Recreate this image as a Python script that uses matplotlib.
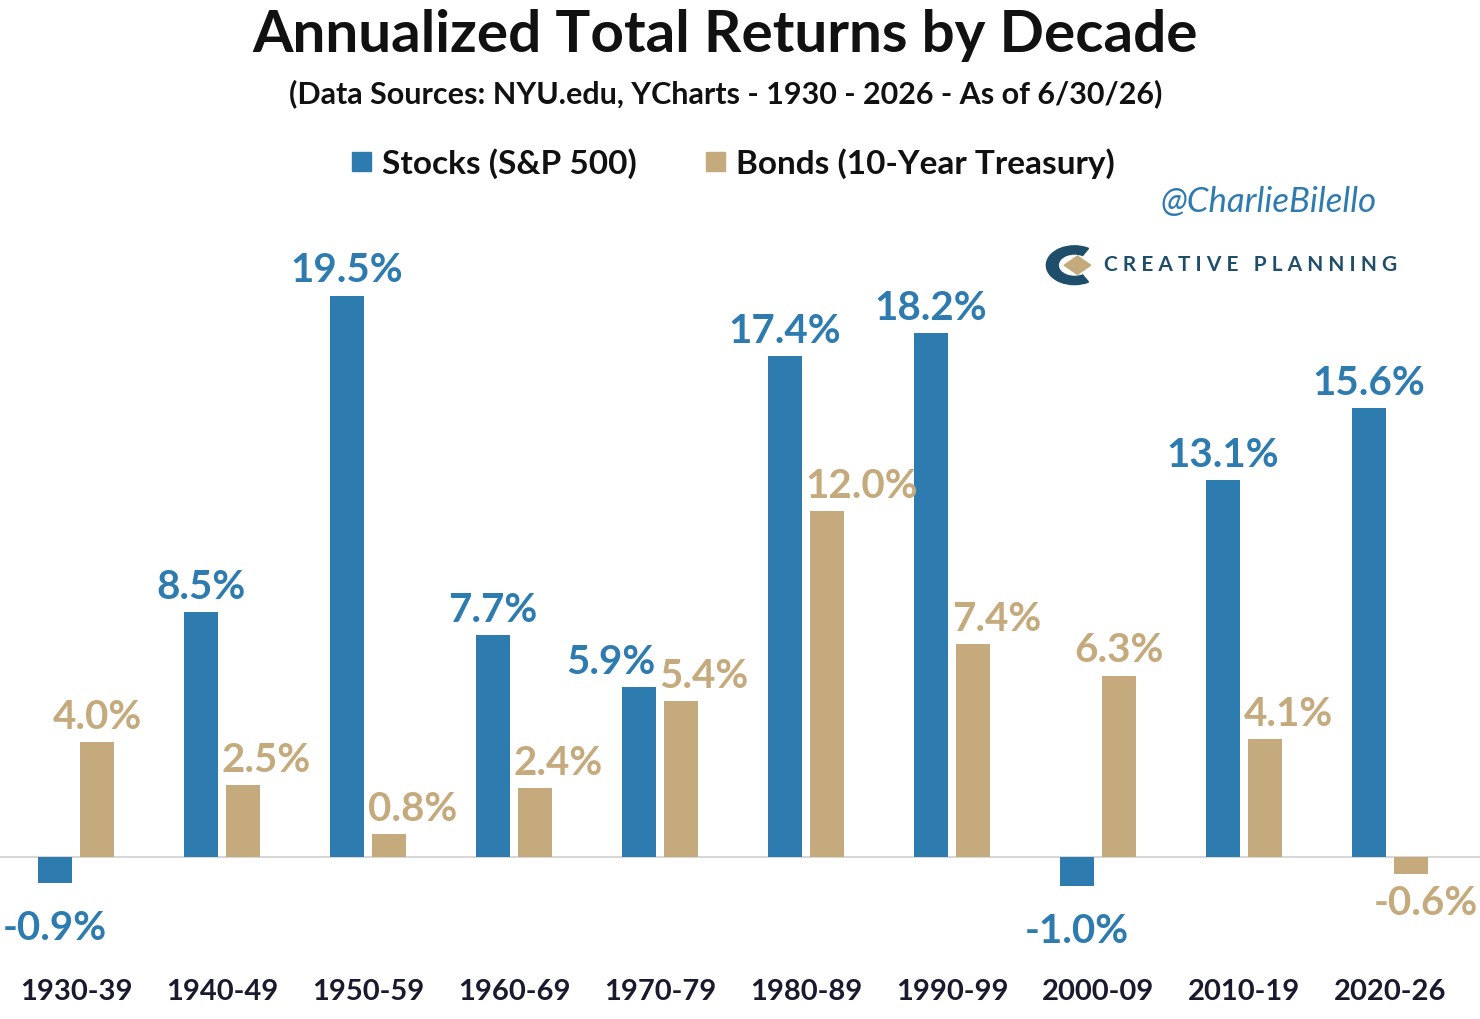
import matplotlib
matplotlib.use("Agg")
import matplotlib.pyplot as plt
import numpy as np

decades = ["1930-39", "1940-49", "1950-59", "1960-69", "1970-79",
           "1980-89", "1990-99", "2000-09", "2010-19", "2020-26"]
stocks = [-0.9, 8.5, 19.5, 7.7, 5.9, 17.4, 18.2, -1.0, 13.1, 15.6]
bonds = [4.0, 2.5, 0.8, 2.4, 5.4, 12.0, 7.4, 6.3, 4.1, -0.6]

BLUE = "#2E7BB0"
TAN = "#C4AA7C"
plt.rcParams["font.family"] = ["Lato", "DejaVu Sans"]

fig = plt.figure(figsize=(14.8, 10.2), dpi=100)
ax = fig.add_axes([0, 0, 1, 1])
ax.set_xlim(-0.52, 9.616)
ax.set_ylim(-5.63, 29.8)
ax.axis("off")

x = np.arange(len(decades))
w, off = 0.233, 0.144
ax.bar(x - off, stocks, w, color=BLUE)
ax.bar(x + off, bonds, w, color=TAN)
ax.axhline(0, color="#d0d0d0", lw=1.2, zorder=0)

LBL = dict(fontsize=29, fontweight="bold")
for i, (xi, s, b) in enumerate(zip(x, stocks, bonds)):
    # stock labels
    if s >= 0:
        if i == 4:
            ax.text(xi - off + w / 2, s + 0.25, f"{s:.1f}%", ha="right",
                    va="bottom", color=BLUE, **LBL)
        else:
            ax.text(xi - off, s + 0.25, f"{s:.1f}%", ha="center", va="bottom",
                    color=BLUE, **LBL)
    else:
        ax.text(xi - off, s - 0.9, f"{s:.1f}%", ha="center", va="top",
                color=BLUE, **LBL)
    # bond labels
    if b < 0:
        ax.text(xi + off + 0.1, b - 0.35, f"{b:.1f}%", ha="center", va="top",
                color=TAN, **LBL)
    elif i in (0, 7):
        ax.text(xi + off, b + 0.25, f"{b:.1f}%", ha="center", va="bottom",
                color=TAN, **LBL)
    else:
        ax.text(xi + off - w / 2 - 0.03, b + 0.25, f"{b:.1f}%", ha="left",
                va="bottom", color=TAN, **LBL)
for xi, d in zip(x, decades):
    ax.text(xi, -4.65, d, ha="center", va="center", fontsize=21,
            fontweight="bold", color="#1a1a2e")

fig.text(0.49, 0.965, "Annualized Total Returns by Decade", ha="center",
         va="center", fontsize=42, fontweight="bold", color="#111111")
fig.text(0.49, 0.908,
         "(Data Sources: NYU.edu, YCharts - 1930 - 2026 - As of 6/30/26)",
         ha="center", va="center", fontsize=22, fontweight="bold",
         color="#111111")

# legend
fig.patches.append(plt.Rectangle((0.238, 0.831), 0.013, 0.019, color=BLUE,
                                 transform=fig.transFigure))
fig.text(0.258, 0.840, "Stocks (S&P 500)", va="center", fontsize=24,
         fontweight="bold", color="#111111")
fig.patches.append(plt.Rectangle((0.477, 0.831), 0.013, 0.019, color=TAN,
                                 transform=fig.transFigure))
fig.text(0.497, 0.840, "Bonds (10-Year Treasury)", va="center", fontsize=24,
         fontweight="bold", color="#111111")

fig.text(0.93, 0.802, "@CharlieBilello", ha="right", va="center",
         fontsize=25, style="italic", color=BLUE)
fig.text(0.746, 0.740, "C R E A T I V E   P L A N N I N G", ha="left",
         va="center", fontsize=15, fontweight="bold", color="#1f4e6b")
fig.patches.append(matplotlib.patches.Wedge((0.726, 0.739), 0.019, 60, 300,
                                            width=0.008, color="#1f4e6b",
                                            transform=fig.transFigure))
fig.patches.append(matplotlib.patches.RegularPolygon((0.728, 0.739), 4,
                                                     radius=0.009, color=TAN,
                                                     transform=fig.transFigure))

fig.savefig("out.png", dpi=100, facecolor="white")
